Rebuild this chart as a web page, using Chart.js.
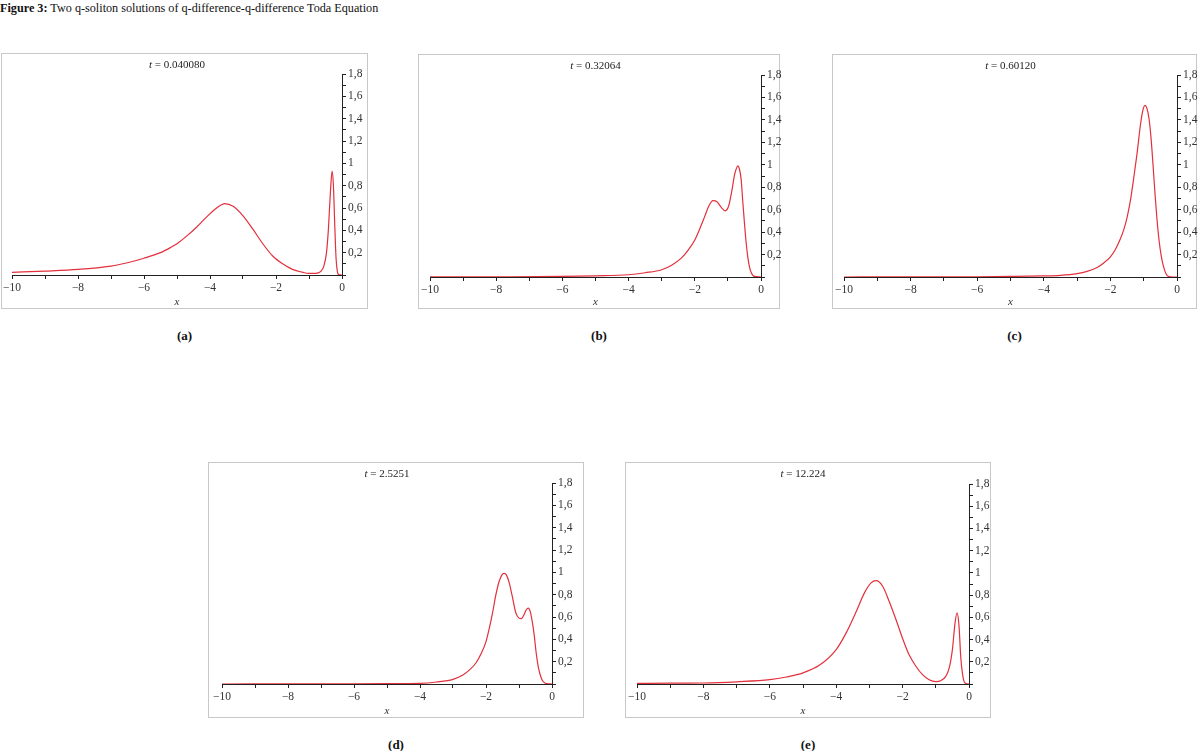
<!DOCTYPE html>
<html>
<head>
<meta charset="utf-8">
<script src="https://cdn.jsdelivr.net/npm/chart.js@4.4.0/dist/chart.umd.min.js"></script>
<style>
  body { margin: 0; background: #fff; width: 1200px; height: 751px; position: relative; overflow: hidden; font-family: "Liberation Serif", serif; }
  .cap { position: absolute; left: 0; top: 1px; font-size: 12.2px; color: #111; white-space: nowrap; }
  .box { position: absolute; border: 1px solid #c8c8c8; box-sizing: border-box; }
  canvas.plot { position: absolute; }
  .ttl { position: absolute; font-size: 11px; color: #222; transform: translateX(-50%); white-space: nowrap; }
  .sub { position: absolute; font-size: 13px; font-weight: bold; color: #111; transform: translateX(-50%); }
</style>
</head>
<body>
<div class="cap"><b>Figure 3:</b> Two q-soliton solutions of q-difference-q-difference Toda Equation</div>
<script>
// tick labels
const xTickLabels = ["\u221210", "\u22128", "\u22126", "\u22124", "\u22122", "0"];
const yTickLabels = ["", "0,2", "0,4", "0,6", "0,8", "1", "1,2", "1,4", "1,6", "1,8"];

// (a) t = 0.040080
const xA = [-10, -9, -8, -7, -6.5, -6, -5.5, -5.2, -5, -4.7, -4.4, -4.1, -3.8, -3.55, -3.3, -3, -2.7, -2.4, -2.1, -1.8, -1.5, -1.2, -1, -0.8, -0.65, -0.55, -0.47, -0.41, -0.35, -0.3, -0.26, -0.22, -0.18, -0.14, -0.1, 0];
const yA = [0.024, 0.035, 0.05, 0.08, 0.11, 0.15, 0.2, 0.245, 0.28, 0.35, 0.43, 0.52, 0.6, 0.64, 0.615, 0.53, 0.41, 0.28, 0.17, 0.1, 0.05, 0.025, 0.015, 0.015, 0.03, 0.08, 0.2, 0.42, 0.75, 0.93, 0.8, 0.45, 0.15, 0.03, 0.003, 0];

// (b) t = 0.32064
const xB = [-10, -8, -6, -5, -4, -3.5, -3, -2.7, -2.4, -2.2, -2, -1.85, -1.7, -1.58, -1.45, -1.33, -1.2, -1.08, -0.98, -0.88, -0.8, -0.74, -0.7, -0.65, -0.6, -0.55, -0.5, -0.45, -0.4, -0.34, -0.28, -0.22, 0];
const yB = [0.001, 0.002, 0.005, 0.01, 0.02, 0.038, 0.065, 0.105, 0.17, 0.24, 0.33, 0.43, 0.54, 0.63, 0.68, 0.67, 0.62, 0.59, 0.63, 0.77, 0.91, 0.97, 0.99, 0.96, 0.87, 0.67, 0.48, 0.31, 0.18, 0.08, 0.03, 0.008, 0];

// (c) t = 0.60120
const xC = [-10, -8, -6, -5, -4, -3.5, -3, -2.7, -2.4, -2.2, -2, -1.85, -1.7, -1.6, -1.5, -1.4, -1.3, -1.2, -1.1, -1.03, -0.96, -0.9, -0.84, -0.78, -0.72, -0.66, -0.6, -0.54, -0.48, -0.42, -0.36, -0.3, -0.2, 0];
const yC = [0, 0.001, 0.002, 0.005, 0.01, 0.015, 0.03, 0.05, 0.085, 0.125, 0.18, 0.245, 0.34, 0.42, 0.53, 0.68, 0.88, 1.1, 1.35, 1.48, 1.53, 1.5, 1.41, 1.24, 1.0, 0.74, 0.51, 0.33, 0.2, 0.11, 0.05, 0.015, 0.002, 0];

// (d) t = 2.5251
const xD = [-10, -8, -6, -5, -4, -3.5, -3, -2.7, -2.5, -2.3, -2.15, -2, -1.9, -1.8, -1.7, -1.6, -1.52, -1.45, -1.38, -1.3, -1.2, -1.1, -1, -0.93, -0.85, -0.78, -0.72, -0.66, -0.6, -0.54, -0.48, -0.42, -0.36, -0.3, -0.22, -0.12, 0];
const yD = [0, 0.001, 0.002, 0.003, 0.006, 0.018, 0.042, 0.08, 0.126, 0.19, 0.27, 0.38, 0.5, 0.64, 0.8, 0.92, 0.975, 0.99, 0.975, 0.91, 0.78, 0.64, 0.59, 0.585, 0.62, 0.665, 0.68, 0.65, 0.56, 0.44, 0.28, 0.16, 0.085, 0.036, 0.01, 0.002, 0];

// (e) t = 12.224
const xE = [-10, -9, -8, -7, -6, -5.5, -5, -4.5, -4, -3.7, -3.4, -3.15, -2.95, -2.8, -2.6, -2.4, -2.2, -2, -1.8, -1.6, -1.4, -1.2, -1, -0.85, -0.7, -0.6, -0.5, -0.42, -0.36, -0.3, -0.25, -0.2, -0.15, -0.1, 0];
const yE = [0.005, 0.007, 0.009, 0.02, 0.039, 0.063, 0.1, 0.17, 0.31, 0.46, 0.65, 0.82, 0.91, 0.93, 0.88, 0.74, 0.58, 0.41, 0.26, 0.16, 0.084, 0.039, 0.022, 0.03, 0.069, 0.14, 0.31, 0.55, 0.64, 0.52, 0.25, 0.1, 0.024, 0.005, 0];

// box [left, top, right, bottom] and plot area [left, top, right, bottom] in page pixels
const panels = [
  { tag: "(a)", t: "0.040080", xs: xA, ys: yA, box: [1, 53, 368, 309], plot: [12, 74, 342, 275] },
  { tag: "(b)", t: "0.32064", xs: xB, ys: yB, box: [418, 54, 780, 309], plot: [430, 75, 761, 277] },
  { tag: "(c)", t: "0.60120", xs: xC, ys: yC, box: [832, 54, 1197, 309], plot: [844, 75, 1177, 277] },
  { tag: "(d)", t: "2.5251", xs: xD, ys: yD, box: [208, 462, 584, 718], plot: [222, 483, 552, 684] },
  { tag: "(e)", t: "12.224", xs: xE, ys: yE, box: [625, 462, 991, 718], plot: [637, 484, 969, 684] },
];

const axisColor = "#222";
const tickFont = { family: "Liberation Serif", size: 11.5 };

function makePanel(p) {
  const [bl, bt, br, bb] = p.box;
  const [pl, pt, pr, pb] = p.plot;
  const bw = br - bl, bh = bb - bt;
  const cw = bw + 20; // canvas a bit wider so y labels never clip

  const box = document.createElement("div");
  box.className = "box";
  Object.assign(box.style, { left: bl + "px", top: bt + "px", width: bw + "px", height: bh + "px" });
  document.body.appendChild(box);

  const cv = document.createElement("canvas");
  cv.className = "plot";
  cv.width = cw;
  cv.height = bh;
  Object.assign(cv.style, { left: bl + "px", top: bt + "px", width: cw + "px", height: bh + "px" });
  document.body.appendChild(cv);

  const ttl = document.createElement("div");
  ttl.className = "ttl";
  ttl.innerHTML = "<i>t</i> = " + p.t;
  Object.assign(ttl.style, { left: (pl + pr) / 2 + "px", top: bt + 5 + "px" });
  document.body.appendChild(ttl);

  const sub = document.createElement("div");
  sub.className = "sub";
  sub.textContent = p.tag;
  Object.assign(sub.style, { left: (bl + br) / 2 + "px", top: bb + 19 + "px" });
  document.body.appendChild(sub);

  const pts = p.xs.map((x, i) => ({ x: x, y: p.ys[i] }));

  new Chart(cv, {
    type: "line",
    data: {
      datasets: [{
        data: pts,
        borderColor: "#e2303c",
        borderWidth: 1.2,
        pointRadius: 0,
        fill: false,
        cubicInterpolationMode: "monotone",
      }],
    },
    options: {
      responsive: false,
      animation: false,
      devicePixelRatio: 1,
      layout: { padding: { left: pl - bl, top: pt - bt, right: 0, bottom: 0 } },
      plugins: { legend: { display: false }, tooltip: { enabled: false } },
      scales: {
        x: {
          type: "linear",
          position: "bottom",
          min: -10,
          max: 0,
          afterFit: (s) => { s.height = bb - pb; },
          border: { display: true, color: axisColor, width: 1 },
          grid: { drawOnChartArea: false, drawTicks: true, tickLength: 4, color: axisColor },
          ticks: {
            stepSize: 1,
            autoSkip: false,
            maxRotation: 0,
            padding: 2,
            color: "#333",
            font: tickFont,
            callback: (v) => {
              const k = Math.round(v);
              return k % 2 ? "" : xTickLabels[(k + 10) / 2];
            },
          },
          title: {
            display: true,
            text: "x",
            color: "#333",
            font: { family: "Liberation Serif", size: 11, style: "italic" },
            padding: { top: 0, bottom: 0 },
          },
        },
        y: {
          type: "linear",
          position: "right",
          min: 0,
          max: 1.8,
          afterFit: (s) => { s.width = cw - pr + bl; },
          border: { display: true, color: axisColor, width: 1 },
          grid: { drawOnChartArea: false, drawTicks: true, tickLength: 4, color: axisColor },
          ticks: {
            stepSize: 0.1,
            autoSkip: false,
            padding: 2,
            color: "#333",
            font: tickFont,
            callback: (v) => {
              const k = Math.round(v * 10);
              return k % 2 ? "" : yTickLabels[k / 2];
            },
          },
        },
      },
    },
  });
}

panels.forEach(makePanel);
</script>
</body>
</html>
